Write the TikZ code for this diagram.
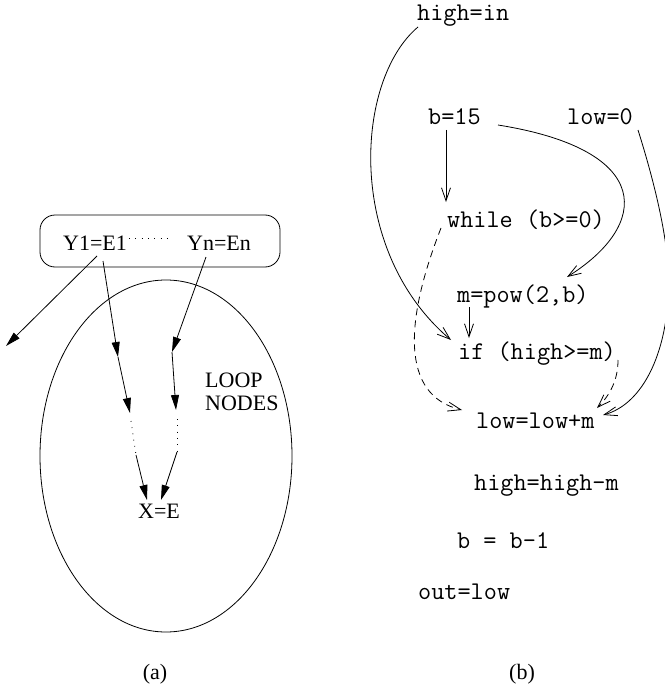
\documentclass[tikz,border=0pt]{standalone}
\usepackage{fontspec}
\setmainfont{Liberation Serif}
\usetikzlibrary{arrows.meta,shapes.geometric}
\tikzset{
  serif/.style={font=\fontsize{22}{26}\selectfont, inner sep=0pt, anchor=base west},
  code/.style={font=\ttfamily\fontsize{25.5}{30}\selectfont, inner sep=0pt, anchor=base west},
  fa/.style={line width=0.8pt, -{Triangle[length=15pt,width=8pt]}},
  oa/.style={line width=0.8pt, -{Straight Barb[length=13pt,width=9pt]}},
  da/.style={oa, dash pattern=on 7pt off 5pt},
  dotline/.style={line width=0.8pt, dash pattern=on 0.8pt off 5.5pt},
}
\begin{document}
\begin{tikzpicture}[x=1pt,y=-1pt]
\useasboundingbox (0,0) rectangle (664,687);

% ---------- (a) ----------
\node[draw, line width=0.8pt, rounded corners=15pt, minimum width=240pt, minimum height=52pt, inner sep=0pt] (box) at (160,241) {};
\node[serif] (y1) at (63,250) {Y1=E1};
\node[serif] (yn) at (187,250) {Yn=En};
\draw[dotline] ([xshift=2pt,yshift=12pt]y1.base east) -- ([xshift=-19pt,yshift=12pt]yn.base west);

\node[draw, ellipse, line width=0.8pt, minimum width=252pt, minimum height=352pt, inner sep=0pt] (loop) at (166,456) {};
\node[serif] (loopa) at (205,387) {LOOP};
\node[serif] (loopb) at (205,410) {NODES};
\node[serif] (xe) at (138,518) {X=E};

\coordinate (out) at (6,346);
\coordinate (p1) at (118,357);
\coordinate (p2) at (130,413);
\coordinate (p2d) at (131,421);
\coordinate (p3) at (136,455);
\coordinate (q1) at (172,352);
\coordinate (q2) at (176,410);
\coordinate (q2d) at (177,419);
\coordinate (q3) at (177,452);

\draw[fa] ([xshift=34pt,yshift=-6pt]y1.base west) -- (out);
\draw[fa] ([xshift=40pt,yshift=-11pt]y1.base west) -- (p1);
\draw[fa] (p1) -- (p2);
\draw[dotline] (p2d) -- (p3);
\draw[fa] (p3) -- ([xshift=9pt,yshift=18pt]xe.base west);

\draw[fa] ([xshift=19pt,yshift=-7pt]yn.base west) -- (q1);
\draw[fa] (q1) -- (q2);
\draw[dotline] (q2d) -- (q3);
\draw[fa] (q3) -- ([xshift=23pt,yshift=18pt]xe.base west);

\node[font=\fontsize{22}{26}\selectfont, inner sep=0pt, anchor=base] (capa) at (155,679) {(a)};

% ---------- (b) ----------
\node[code] (highin) at (417,21) {high=in};
\node[code] (b15) at (428,125) {b=15};
\node[code] (low0) at (567,125) {low=0};
\node[code] (while) at (447,227) {while (b>=0)};
\node[code] (mpow) at (457,302) {m=pow(2,b)};
\node[code] (if) at (458,359) {if (high>=m)};
\node[code] (lowlow) at (476,428) {low=low+m};
\node[code] (highhigh) at (474,490) {high=high-m};
\node[code] (bdec) at (457,548) {b = b-1};
\node[code] (outlow) at (418,599) {out=low};

\draw[oa] ([xshift=1pt,yshift=-6pt]highin.base west) .. controls (355,80) and (345,250) .. ([xshift=-7pt,yshift=19pt]if.base west);
\draw[oa] ([xshift=18pt,yshift=-5pt]b15.base west) -- ([xshift=-1pt,yshift=25pt]while.base west);
\draw[oa] ([xshift=70pt,yshift=0pt]b15.base west) .. controls (655,150) and (650,225) .. ([xshift=110pt,yshift=25pt]mpow.base west);
\draw[oa] ([xshift=71pt,yshift=-5pt]low0.base west) .. controls (660,200) and (672,260) .. (668,300) .. controls (664,360) and (640,405) .. ([xshift=127pt,yshift=13pt]lowlow.base west);
\draw[oa] ([xshift=12pt,yshift=-5pt]mpow.base west) -- ([xshift=11pt,yshift=21pt]if.base west);
\draw[da] ([xshift=-6pt,yshift=-1pt]while.base west) .. controls (405,320) and (400,395) .. ([xshift=-14pt,yshift=18pt]lowlow.base west);
\draw[da] ([xshift=160pt,yshift=-1pt]if.base west) .. controls (618,380) and (610,395) .. ([xshift=121pt,yshift=20pt]lowlow.base west);

\node[font=\fontsize{22}{26}\selectfont, inner sep=0pt, anchor=base] (capb) at (522,679) {(b)};
\end{tikzpicture}
\end{document}
